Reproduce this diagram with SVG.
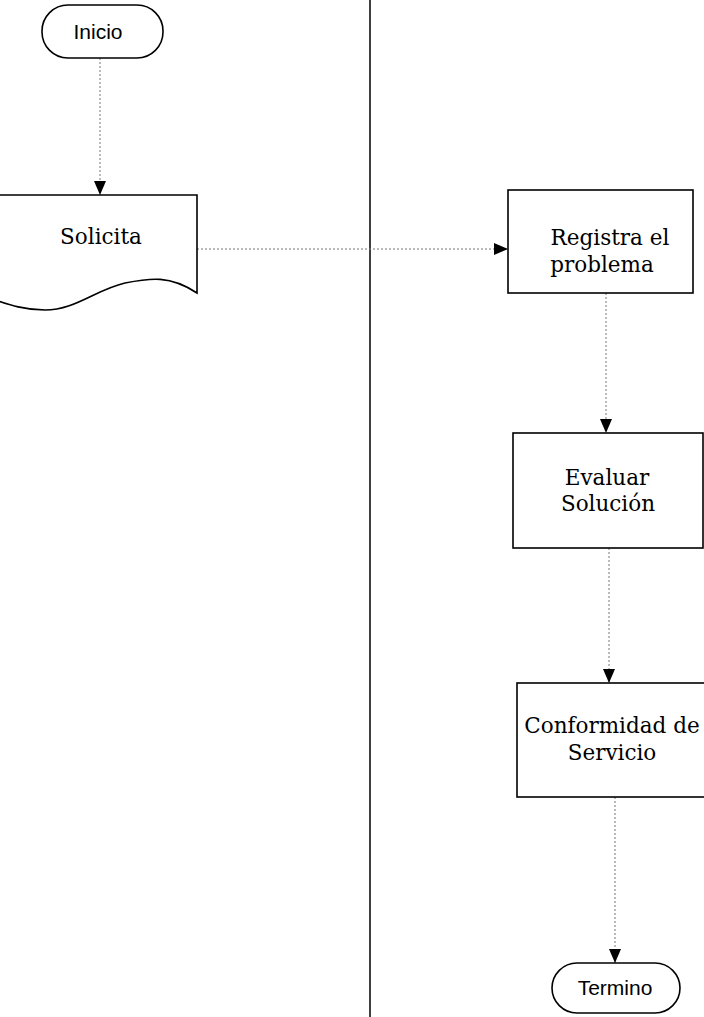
<svg xmlns="http://www.w3.org/2000/svg" width="704" height="1017" viewBox="0 0 704 1017">
<style>
.shape{fill:#fff;stroke:#000;stroke-width:1.6}
.sans{font-family:"Liberation Sans",Arial,sans-serif;font-size:21px;fill:#000;text-anchor:middle}
.serif{font-family:"DejaVu Serif","Liberation Serif",serif;font-size:21.5px;fill:#000;text-anchor:middle}
.conn{fill:none;stroke:#777;stroke-width:1;stroke-dasharray:2 2}
</style>
<defs>
<marker id="arr" viewBox="0 0 14 12" refX="14" refY="6" markerWidth="14" markerHeight="12" markerUnits="userSpaceOnUse" orient="auto">
<path d="M0,0 L14,6 L0,12 Z" fill="#000"/>
</marker>
</defs>
<rect width="704" height="1017" fill="#fff"/>
<line id="divider" x1="370" y1="0" x2="370" y2="1017" stroke="#000" stroke-width="1.5"/>
<g id="connectors">
<line class="conn" x1="100" y1="58" x2="100" y2="195" marker-end="url(#arr)"/>
<line class="conn" x1="197" y1="249" x2="508" y2="249" marker-end="url(#arr)"/>
<line class="conn" x1="606" y1="293" x2="606" y2="433" marker-end="url(#arr)"/>
<line class="conn" x1="609" y1="548" x2="609" y2="683" marker-end="url(#arr)"/>
<line class="conn" x1="615" y1="797" x2="615" y2="963" marker-end="url(#arr)"/>
</g>
<g id="inicio">
<rect class="shape" x="42" y="5" width="121" height="53" rx="26" ry="26"/>
<text class="sans" x="98" y="39">Inicio</text>
</g>
<g id="solicita">
<path class="shape" d="M-5,195 L197,195 L197,293 C170,275 150,278 125,283 C95,290 75,310 45,310 C25,310 10,305 -5,300 Z"/>
<text class="serif" x="101" y="244">Solicita</text>
</g>
<g id="registra">
<rect class="shape" x="508" y="190" width="185" height="103"/>
<text class="serif" x="610" y="245">Registra el</text>
<text class="serif" x="602" y="272">problema</text>
</g>
<g id="evaluar">
<rect class="shape" x="513" y="433" width="190" height="115"/>
<text class="serif" x="607" y="485">Evaluar</text>
<text class="serif" x="608" y="511">Solución</text>
</g>
<g id="conformidad">
<rect class="shape" x="517" y="683" width="192" height="114"/>
<text class="serif" x="612" y="733">Conformidad de</text>
<text class="serif" x="612" y="760">Servicio</text>
</g>
<g id="termino">
<rect class="shape" x="552" y="963" width="128" height="50" rx="25" ry="25"/>
<text class="sans" x="615" y="995">Termino</text>
</g>
</svg>
